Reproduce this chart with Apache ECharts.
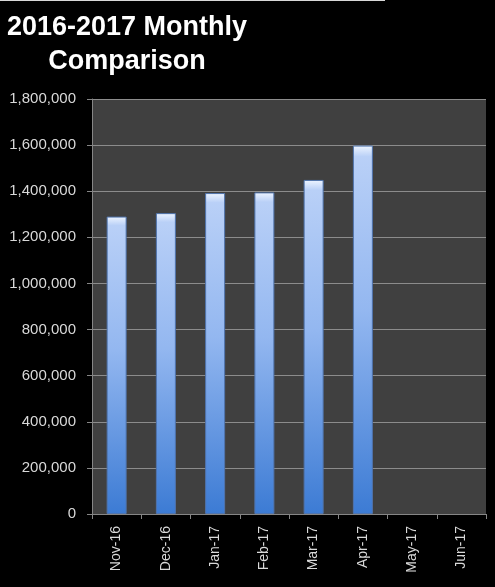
<!DOCTYPE html>
<html>
<head>
<meta charset="utf-8">
<script src="https://cdn.jsdelivr.net/npm/echarts@6/dist/echarts.min.js"></script>
<style>
html,body{margin:0;padding:0;background:#000;}
#c{width:495px;height:587px;}
</style>
</head>
<body>
<div id="c"></div>
<script>
const titleText = "2016-2017 Monthly\nComparison";
const categories = ["Nov-16","Dec-16","Jan-17","Feb-17","Mar-17","Apr-17","May-17","Jun-17"];
const values = [1290000, 1305000, 1392000, 1395000, 1449000, 1598000, null, null];
const yMin = 0, yMax = 1800000, yStep = 200000;

const chart = echarts.init(document.getElementById('c'));
chart.setOption({
  backgroundColor: '#000',
  animation: false,
  title: {
    text: titleText,
    left: 122,
    top: 6,
    textAlign: 'center',
    textStyle: {
      color: '#ffffff',
      fontFamily: 'Liberation Sans',
      fontWeight: 'bold',
      fontSize: 27,
      lineHeight: 34
    }
  },
  graphic: [
    {type:'rect', left:0, top:0, shape:{width:385, height:1}, style:{fill:'#d8d8d8'}}
  ],
  grid: {
    left: 92, right: 9, top: 99, bottom: 73,
    show: true, backgroundColor: '#404040', borderWidth: 0
  },
  xAxis: {
    type: 'category',
    data: categories,
    axisLine: {show: true, lineStyle: {color: '#868686', width: 1}},
    axisTick: {show: true, length: 5, lineStyle: {color: '#868686'}},
    axisLabel: {
      rotate: 90, margin: 12, color: '#d9d9d9',
      fontFamily: 'Liberation Sans', fontSize: 14
    },
    splitLine: {show: false}
  },
  yAxis: {
    type: 'value',
    min: yMin, max: yMax, interval: yStep,
    axisLine: {show: true, lineStyle: {color: '#868686', width: 1}},
    axisTick: {show: true, length: 5, lineStyle: {color: '#868686'}},
    axisLabel: {
      margin: 16, color: '#d9d9d9',
      fontFamily: 'Liberation Sans', fontSize: 15,
      formatter: v => v.toLocaleString('en-US')
    },
    splitLine: {show: true, lineStyle: {color: '#8c8c8c', width: 1}}
  },
  series: [{
    type: 'bar',
    data: values,
    barWidth: 20,
    itemStyle: {
      borderColor: '#4f74ad',
      borderWidth: 1,
      color: new echarts.graphic.LinearGradient(0, 0, 0, 1, [
        {offset: 0, color: '#eef5ff'},
        {offset: 0.03, color: '#b9d0f7'},
        {offset: 0.45, color: '#93b7f0'},
        {offset: 1, color: '#3c7bd4'}
      ])
    }
  }]
});
</script>
</body>
</html>
